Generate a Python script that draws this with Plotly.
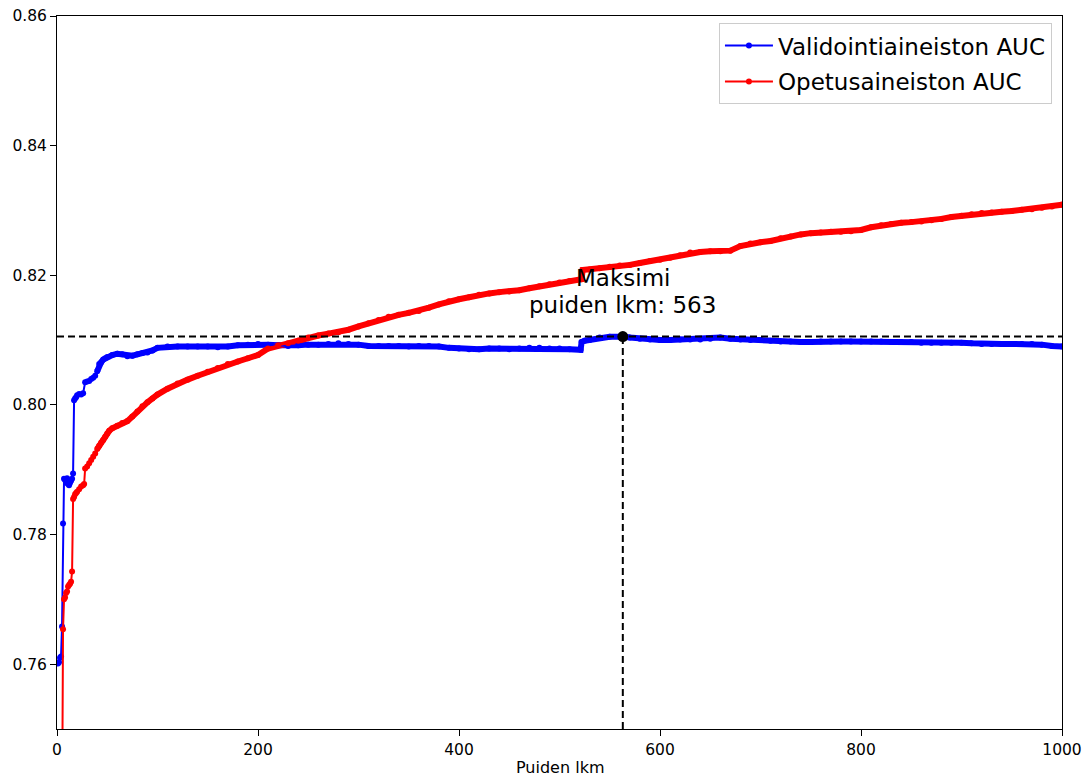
import plotly.graph_objects as go

# Validation AUC (blue)
val_x = [1, 2, 3, 4, 5, 6, 7, 8, 9, 10, 11, 12, 13, 14, 15, 16, 17, 18, 19, 20, 22, 24, 26, 28, 30, 32, 34, 36, 38, 40,
         42, 44, 46, 48, 50, 55, 60, 65, 70, 75, 80, 85, 90, 95, 100,
         110, 120, 130, 140, 150, 160, 170, 180, 190, 200, 210, 220, 230, 240, 250, 260, 270, 280, 290, 300,
         310, 320, 330, 340, 350, 360, 370, 380, 390, 400, 410, 420, 430, 440, 450, 460, 470, 480, 490, 500,
         510, 521, 522, 525, 530, 540, 550, 560, 563, 570, 580, 590, 600, 610, 620, 630, 640, 650, 660, 670,
         680, 690, 700, 710, 720, 730, 740, 750, 760, 770, 780, 790, 800, 810, 820, 830, 840, 850, 860, 870,
         880, 890, 900, 910, 920, 930, 940, 950, 960, 970, 980, 990, 1000]
val_auc = [0.7601, 0.7603, 0.7610, 0.7612, 0.7658, 0.7817, 0.7886, 0.7884, 0.7880, 0.7887, 0.7878, 0.7876, 0.7880, 0.7883, 0.7886, 0.7894,
           0.8007, 0.8010, 0.8012, 0.8015, 0.8017, 0.8016, 0.8018, 0.8035, 0.8036, 0.8037, 0.8040, 0.8042, 0.8045, 0.8052,
           0.8063, 0.8066, 0.8070, 0.8072, 0.8074, 0.8077, 0.8079, 0.8078, 0.8075, 0.8076, 0.8078, 0.8080, 0.8081, 0.8084, 0.8088,
           0.8090, 0.8090, 0.8090, 0.8090, 0.8090, 0.8089, 0.8090, 0.8092, 0.8093, 0.8094, 0.8093, 0.8092, 0.8091, 0.8092, 0.8093,
           0.8093, 0.8094, 0.8095, 0.8094, 0.8093, 0.8091, 0.8091, 0.8091, 0.8091, 0.8090, 0.8091, 0.8091, 0.8090, 0.8088, 0.8087,
           0.8086, 0.8086, 0.8087, 0.8087, 0.8086, 0.8087, 0.8088, 0.8088, 0.8087, 0.8087, 0.8086, 0.8085, 0.8097, 0.8099, 0.8100,
           0.8104, 0.8105, 0.8105, 0.81055, 0.8104, 0.8102, 0.8101, 0.8100, 0.8100, 0.8101, 0.8101, 0.8101, 0.8102, 0.8104, 0.8102,
           0.8101, 0.8100, 0.8100, 0.8099, 0.8098, 0.8098, 0.8097, 0.8097, 0.8098, 0.8098, 0.8098, 0.8098, 0.8098, 0.8098, 0.8098,
           0.8097, 0.8097, 0.8097, 0.8096, 0.8096, 0.8096, 0.8096, 0.8096, 0.8095, 0.8094, 0.8094, 0.8094, 0.8094, 0.8094, 0.8094,
           0.8093, 0.8091, 0.8090]

# Training AUC (red)
train_x = [5, 6, 7, 8, 9, 10, 11, 12, 13, 14, 15, 16, 17, 18, 19, 20, 22, 24, 26, 27, 28, 30, 32, 34, 36, 38, 40,
           42, 44, 46, 48, 50, 52, 55, 60, 65, 70, 75, 80, 85, 90, 95, 100,
           110, 120, 130, 140, 150, 160, 170, 180, 190, 200, 210, 220, 230, 240, 250, 260, 270, 280, 290, 300,
           310, 320, 330, 340, 350, 360, 370, 380, 390, 400, 410, 420, 430, 440, 450, 460, 470, 480, 490, 500,
           510, 522, 523, 530, 540, 550, 560, 570, 580, 590, 600, 610, 620, 630, 640, 650, 660, 670, 680, 690, 700,
           710, 720, 730, 740, 750, 760, 770, 780, 790, 800, 810, 820, 830, 840, 850, 860, 870, 880, 890, 900,
           910, 920, 930, 940, 950, 960, 970, 980, 990, 1000]
train_auc = [0.7350, 0.7654, 0.7700, 0.7703, 0.7710, 0.7712, 0.7720, 0.7722, 0.7724, 0.7727, 0.7743, 0.7855, 0.7858, 0.7862,
             0.7864, 0.7866, 0.7870, 0.7874, 0.7876, 0.7878, 0.7902, 0.7905, 0.7910, 0.7915, 0.7920, 0.7925, 0.7932,
             0.7937, 0.7942, 0.7946, 0.7951, 0.7956, 0.7960, 0.7964, 0.7968, 0.7972, 0.7975, 0.7982, 0.7990, 0.7998, 0.8004,
             0.8010, 0.8016,
             0.8025, 0.8033, 0.8039, 0.8045, 0.8051, 0.8057, 0.8063, 0.8067, 0.8072, 0.8077, 0.8087, 0.8092, 0.8095, 0.8099,
             0.8104, 0.8107, 0.8110, 0.8112, 0.8116, 0.8121,
             0.8126, 0.8131, 0.8136, 0.8139, 0.8142, 0.8145, 0.8150, 0.8155, 0.8160, 0.8163, 0.8166, 0.8170, 0.8172, 0.8174,
             0.8175, 0.8177, 0.8180, 0.8183, 0.8186, 0.8189,
             0.8191, 0.8194, 0.8208, 0.8209, 0.8211, 0.8213, 0.8215, 0.8216, 0.8219, 0.8222, 0.8224, 0.8227, 0.8231, 0.8235,
             0.8236, 0.8237, 0.8237, 0.8238, 0.8245, 0.8249, 0.8251,
             0.8253, 0.8257, 0.8260, 0.8263, 0.8265, 0.8266, 0.8267, 0.8267, 0.8268, 0.8270, 0.8274, 0.8277, 0.8279, 0.8281,
             0.8282, 0.8283, 0.8285, 0.8287, 0.8290, 0.8292,
             0.8294, 0.8296, 0.8297, 0.8298, 0.8299, 0.8301, 0.8302, 0.8304, 0.8306, 0.8309]

x_ticks = [0, 200, 400, 600, 800, 1000]
y_ticks = [0.76, 0.78, 0.80, 0.82, 0.84, 0.86]

series_names = ["Validointiaineiston AUC", "Opetusaineiston AUC"]
x_title = "Puiden lkm"

best_i = max(range(len(val_auc)), key=lambda i: val_auc[i])
best_x = val_x[best_i]
best_y = val_auc[best_i]

FONT = "DejaVu Sans"
BLUE = "#0000ff"
RED = "#ff0000"

fig = go.Figure()

# thick bands for the dense flat parts (the many overlapping markers in the original)
def band(xs, ys, color, start):
    idx = [i for i, v in enumerate(xs) if v >= start]
    fig.add_trace(go.Scatter(x=[xs[i] for i in idx], y=[ys[i] for i in idx], mode="lines",
                             line=dict(color=color, width=6), showlegend=False, hoverinfo="skip"))

band(val_x, val_auc, BLUE, 40)
band(train_x, train_auc, RED, 40)

fig.add_trace(go.Scatter(x=val_x, y=val_auc, mode="lines+markers", name=series_names[0], legendgroup="a",
                         line=dict(color=BLUE, width=2), marker=dict(color=BLUE, size=6)))
fig.add_trace(go.Scatter(x=train_x, y=train_auc, mode="lines+markers", name=series_names[1], legendgroup="b",
                         line=dict(color=RED, width=2), marker=dict(color=RED, size=6)))

# dashed guide lines at the maximum
fig.add_trace(go.Scatter(x=[0, 1000], y=[best_y, best_y], mode="lines", showlegend=False,
                         line=dict(color="black", width=2, dash="7px,4px"), hoverinfo="skip"))
fig.add_trace(go.Scatter(x=[best_x, best_x], y=[0.75, best_y], mode="lines", showlegend=False,
                         line=dict(color="black", width=2, dash="7px,4px"), hoverinfo="skip"))
fig.add_trace(go.Scatter(x=[best_x], y=[best_y], mode="markers", showlegend=False,
                         marker=dict(color="black", size=11)))

fig.add_annotation(x=best_x, y=best_y, yref="y", xref="x", yshift=59,
                   text="Maksimi", showarrow=False,
                   yanchor="middle", xanchor="center",
                   font=dict(family=FONT, size=23, color="black"))
fig.add_annotation(x=best_x, y=best_y, yref="y", xref="x", yshift=32,
                   text=f"puiden lkm: {best_x}", showarrow=False,
                   yanchor="middle", xanchor="center",
                   font=dict(family=FONT, size=23, color="black"))

# x-axis title
fig.add_annotation(x=0.5, y=0, xref="paper", yref="paper", yshift=-38,
                   text=x_title, showarrow=False, yanchor="middle", xanchor="center",
                   font=dict(family=FONT, size=16, color="black"))

fig.update_layout(
    width=1086, height=778,
    margin=dict(l=57, r=24, t=16, b=49),
    paper_bgcolor="white", plot_bgcolor="white",
    font=dict(family=FONT, size=15.5, color="black"),
    legend=dict(x=0.99, y=0.99, xanchor="right", yanchor="top",
                traceorder="grouped", tracegroupgap=3,
                bgcolor="rgba(255,255,255,0.8)", bordercolor="#cccccc", borderwidth=1,
                font=dict(family=FONT, size=23, color="black"), itemwidth=48),
    showlegend=True,
)
fig.update_xaxes(range=[0, 1000], tickvals=x_ticks, ticks="outside", ticklen=6, tickcolor="black",
                 showline=True, linecolor="black", linewidth=1, mirror=True, showgrid=False, zeroline=False,
                 tickfont=dict(family=FONT, size=15.5), automargin=False)
fig.update_yaxes(range=[0.75, 0.86], tickvals=y_ticks, tickformat=".2f", ticks="outside", ticklen=6,
                 tickcolor="black", showline=True, linecolor="black", linewidth=1, mirror=True,
                 showgrid=False, zeroline=False, tickfont=dict(family=FONT, size=15.5), automargin=False)

fig.write_html("out.html")
